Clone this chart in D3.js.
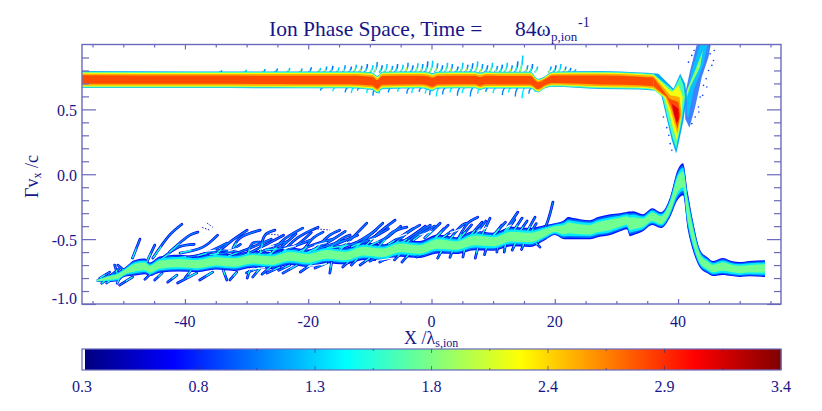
<!DOCTYPE html>
<html>
<head>
<meta charset="utf-8">
<script src="https://cdn.jsdelivr.net/npm/d3@7"></script>
<style>
  html, body { margin: 0; padding: 0; background: #fff; }
  svg { display: block; }
  text { font-family: "Liberation Serif", serif; fill: #16168a; }
</style>
</head>
<body>
<div id="my_dataviz"></div>
<script>
// tick values
var xMajor = [-40, -20, 0, 20, 40];
var xMinor = [-55, -50, -45, -35, -30, -25, -15, -10, -5, 5, 10, 15, 25, 30, 35, 45, 50, 55];
var yMajor = [0.5, 0, -0.5, -1];
var yMinor = [0.9, 0.8, 0.7, 0.6, 0.4, 0.3, 0.2, 0.1, -0.1, -0.2, -0.3, -0.4, -0.6, -0.7, -0.8, -0.9];
var colorLabels = ["0.3", "0.8", "1.3", "1.8", "2.4", "2.9", "3.4"];

// upper beam (band edges in v)
var upperX = [-56.7, -37.6, -21.3, -13.2, -10.8, -9.6, -8.8, -8, -1.9, -0.6, 0.1, 1, 7.1, 7.9, 8.7, 11.1, 16, 17.3, 18.4, 19.6, 27.4, 33.8, 36];
var upperTop = [0.795, 0.792, 0.792, 0.792, 0.79, 0.785, 0.758, 0.79, 0.792, 0.79, 0.778, 0.79, 0.792, 0.783, 0.792, 0.79, 0.79, 0.735, 0.755, 0.79, 0.795, 0.785, 0.779];
var upperBottom = [0.664, 0.665, 0.662, 0.662, 0.655, 0.65, 0.625, 0.656, 0.662, 0.652, 0.64, 0.66, 0.662, 0.648, 0.66, 0.66, 0.66, 0.631, 0.662, 0.675, 0.658, 0.654, 0.645];
var upperLevels = [1.2, 1.7, 2.2, 2.5, 2.78];
var upperFractions = [1, 0.93, 0.82, 0.7, 0.5];

// the spike near x = 40, one outline for each upper level, then the hot core
var spike0 = [[36, 0.779], [36.82, 0.775], [39.26, 0.659], [40.34, 0.775], [41.15, 0.698], [41.42, 0.595], [40.88, 0.416], [40.07, 0.236], [39.69, 0.159], [38.99, 0.262], [38.17, 0.428], [37.36, 0.595], [36.66, 0.646], [36, 0.645]];
var spike1 = [[36, 0.774], [39.26, 0.646], [40.34, 0.754], [40.88, 0.685], [41.15, 0.595], [40.61, 0.416], [39.9, 0.249], [39.69, 0.198], [39.15, 0.275], [38.34, 0.428], [37.52, 0.595], [36, 0.65]];
var spike2 = [[36, 0.767], [38.99, 0.633], [40.07, 0.685], [40.77, 0.595], [40.34, 0.39], [39.8, 0.262], [39.26, 0.339], [38.6, 0.467], [37.74, 0.595], [36, 0.657]];
var spike3 = [[36, 0.759], [38.72, 0.608], [40.23, 0.595], [40.55, 0.467], [39.9, 0.313], [39.42, 0.39], [38.82, 0.492], [37.96, 0.595], [36, 0.665]];
var spike4 = [[36, 0.745], [38.6, 0.582], [40.07, 0.557], [40.34, 0.454], [39.9, 0.351], [39.53, 0.415], [38.99, 0.505], [38.17, 0.595], [36, 0.679]];
var spikeCore = [[38.99, 0.544], [40.07, 0.505], [40.12, 0.428], [39.8, 0.39], [39.26, 0.48]];

// the reflected arm going up out of the frame
var armOuter = [[43.04, 1.0], [45.3, 1.0], [44.94, 0.903], [43.85, 0.749], [42.77, 0.518], [41.85, 0.359], [41.15, 0.428], [41.15, 0.621], [41.96, 0.8]];
var armMiddle = [[43.58, 1.0], [44.77, 1.0], [44.13, 0.852], [42.5, 0.646], [41.69, 0.441], [41.42, 0.454], [41.42, 0.621], [42.23, 0.8]];
var armInner = [[44.02, 0.954], [43.58, 0.826], [41.96, 0.672], [41.26, 0.569], [41.42, 0.646], [42.77, 0.8]];
var armSpecks = [[45.2, 0.928], [45.75, 0.877], [44.94, 0.8], [44.56, 0.736], [44.13, 0.685], [43.58, 0.595], [43.31, 0.518], [42.77, 0.441], [42.23, 0.39], [41.69, 0.864], [42.23, 0.916], [42.6, 0.954], [37.63, 0.441], [38.17, 0.359], [38.5, 0.3], [38.72, 0.236], [38.99, 0.185], [44.67, 0.672], [44, 0.608], [43.37, 0.48], [45.48, 0.839], [45.86, 0.954], [42.93, 0.877]];

// thin spray above and below the upper beam: x, tip v
var fringeUp = [[-34, 0.8], [-30, 0.805], [-27, 0.81], [-25, 0.815], [-23, 0.82], [-21, 0.815], [-19.5, 0.825], [-18, 0.82], [-17, 0.83], [-16, 0.835], [-15, 0.825], [-14, 0.84], [-13, 0.83], [-12.2, 0.845], [-11.3, 0.835], [-10.4, 0.85], [-9.5, 0.84], [-8.8, 0.865], [-8, 0.84], [-7.2, 0.85], [-6.3, 0.835], [-5.5, 0.85], [-4.6, 0.845], [-3.8, 0.86], [-3, 0.84], [-2.2, 0.855], [-1.4, 0.85], [-0.6, 0.87], [0.2, 0.875], [1, 0.855], [1.8, 0.84], [2.6, 0.86], [3.4, 0.85], [4.3, 0.83], [5.1, 0.86], [5.9, 0.845], [6.7, 0.855], [7.5, 0.87], [8.3, 0.85], [9.1, 0.84], [9.9, 0.86], [10.7, 0.835], [11.5, 0.845], [12.3, 0.86], [13.1, 0.84], [14, 0.87], [14.8, 0.915], [15.6, 0.84], [16.4, 0.85], [17.2, 0.83], [19.4, 0.83], [20.2, 0.84], [21, 0.85], [21.8, 0.83], [22.6, 0.82], [23.4, 0.81]];
var fringeDown = [[-18, 0.645], [-16, 0.64], [-14, 0.63], [-13, 0.625], [-12, 0.645], [-10.5, 0.625], [-9.5, 0.605], [-8.5, 0.62], [-7, 0.63], [-5.5, 0.635], [-4, 0.62], [-3.2, 0.625], [-2, 0.635], [-1, 0.62], [-0.3, 0.61], [0.8, 0.6], [1.8, 0.615], [3, 0.63], [4.2, 0.605], [5, 0.625], [6.3, 0.6], [7.5, 0.62], [8.8, 0.635], [10, 0.625], [11.5, 0.61], [12.5, 0.63], [13.6, 0.6], [14.7, 0.585], [15.8, 0.62], [16.8, 0.635]];

// lower beam
var lowerX = [-54.3, -52.5, -50.9, -49.8, -48.1, -46.5, -45.7, -44.1, -41, -38, -35, -32, -29, -26, -23, -20, -17, -14, -11, -8, -5, -2, 1, 4, 7, 10, 13, 16, 18.4, 20, 21.5, 22.2, 23, 24.1, 25.7, 27, 29, 30.6, 31.7, 32.2, 32.7, 34.3, 35.8, 37.2, 38.7, 39.9, 40.8, 41.6, 42.4, 43.6, 44.7, 45.7, 47.2, 48.7, 50, 51.6, 54.1];
var lowerTop = [-0.81, -0.775, -0.75, -0.72, -0.66, -0.65, -0.68, -0.634, -0.62, -0.63, -0.605, -0.615, -0.59, -0.6, -0.565, -0.58, -0.55, -0.565, -0.525, -0.54, -0.5, -0.515, -0.465, -0.485, -0.435, -0.45, -0.405, -0.415, -0.392, -0.377, -0.354, -0.33, -0.338, -0.346, -0.354, -0.33, -0.308, -0.3, -0.29, -0.288, -0.285, -0.308, -0.262, -0.292, -0.177, 0.031, 0.085, -0.146, -0.354, -0.585, -0.638, -0.669, -0.646, -0.669, -0.677, -0.669, -0.662];
var lowerBottom = [-0.83, -0.83, -0.825, -0.79, -0.78, -0.77, -0.785, -0.759, -0.75, -0.755, -0.735, -0.745, -0.72, -0.73, -0.7, -0.715, -0.685, -0.695, -0.66, -0.67, -0.635, -0.645, -0.61, -0.615, -0.585, -0.59, -0.555, -0.56, -0.508, -0.469, -0.5, -0.5, -0.5, -0.5, -0.5, -0.485, -0.469, -0.44, -0.423, -0.477, -0.47, -0.44, -0.392, -0.415, -0.331, -0.2, -0.162, -0.431, -0.585, -0.723, -0.762, -0.785, -0.777, -0.785, -0.792, -0.787, -0.792];
var lowerLevels = [0.72, 1.0, 1.4, 1.8];
var lowerFractions = [1, 0.88, 0.72, 0.5];

// filaments around the lower beam
var fingers = [
  [[-48.5, -0.646], [-47.3, -0.5]],
  [[-46.2, -0.677], [-44.9, -0.546]],
  [[-45.2, -0.646], [-42.5, -0.469], [-40.5, -0.385]],
  [[-42.5, -0.6], [-39.2, -0.469], [-37.9, -0.446]],
  [[-40.8, -0.608], [-37.1, -0.562], [-34.7, -0.469]],
  [[-42, -0.646], [-37.6, -0.623], [-33.2, -0.531]],
  [[-35.5, -0.638], [-32.7, -0.523], [-29.9, -0.431]],
  [[-32.2, -0.569], [-31.1, -0.492], [-27.8, -0.431]],
  [[-29.9, -0.623], [-29, -0.531], [-27.8, -0.523]],
  [[-49.4, -0.762], [-50.9, -0.7]],
  [[-50.9, -0.777], [-51.4, -0.7]],
  [[-53.8, -0.8], [-52.2, -0.754]],
  [[-52.7, -0.838], [-50.6, -0.762]],
  [[-53.5, -0.84], [-52, -0.78], [-50.5, -0.72]],
  [[-51, -0.84], [-50.2, -0.76]],
  [[-48.5, -0.792], [-50.6, -0.854]],
  [[-43.7, -0.762], [-44.9, -0.815]],
  [[-41.3, -0.777], [-42.8, -0.831]],
  [[-38.1, -0.762], [-41.2, -0.838]],
  [[-35.5, -0.754], [-37.6, -0.815]],
  [[-33.8, -0.738], [-33.2, -0.815]],
  [[-31.6, -0.754], [-32.7, -0.815]],
  [[-29.5, -0.738], [-29.9, -0.8]],
  [[-27.8, -0.723], [-29, -0.792]],
  [[-27.8, -0.6], [-27, -0.469], [-25.4, -0.431]],
  [[-26.2, -0.623], [-24.1, -0.508], [-20.9, -0.415]],
  [[-24.6, -0.623], [-21.8, -0.492], [-18.4, -0.408]],
  [[-21.3, -0.623], [-19.2, -0.492], [-17.6, -0.446]],
  [[-19.7, -0.623], [-16.5, -0.469], [-14.9, -0.431]],
  [[-17.6, -0.608], [-14.4, -0.492], [-13.2, -0.469]],
  [[-15.3, -0.608], [-12.1, -0.454], [-10.5, -0.377]],
  [[-13.2, -0.6], [-10, -0.469], [-7.9, -0.377]],
  [[-11.1, -0.569], [-8.4, -0.446], [-5.9, -0.354]],
  [[-8.8, -0.569], [-6.3, -0.446], [-4, -0.408]],
  [[-6.7, -0.569], [-4, -0.454], [-1.9, -0.392]],
  [[-4.6, -0.546], [-2.4, -0.469], [-0.2, -0.392]],
  [[-27, -0.585], [-23, -0.562], [-19.7, -0.508]],
  [[-23, -0.646], [-18.1, -0.569], [-14, -0.508]],
  [[-16.5, -0.569], [-11.6, -0.531]],
  [[-44, -0.66], [-41, -0.56], [-38.5, -0.54]],
  [[-38, -0.63], [-35, -0.59], [-31.5, -0.6]],
  [[-36, -0.62], [-33, -0.6], [-31, -0.54]],
  [[-33, -0.63], [-30, -0.58], [-26, -0.5]],
  [[-31, -0.64], [-28, -0.57], [-24, -0.47]],
  [[-29, -0.64], [-26, -0.56], [-23.5, -0.52]],
  [[-27, -0.63], [-25, -0.58], [-22, -0.46]],
  [[-25, -0.62], [-22, -0.55], [-19.5, -0.45]],
  [[-22, -0.61], [-19.5, -0.55], [-16, -0.5]],
  [[-20, -0.6], [-17, -0.53], [-14, -0.44]],
  [[-18, -0.59], [-15, -0.53], [-12, -0.47]],
  [[-15, -0.57], [-12, -0.52], [-9, -0.43]],
  [[-13, -0.56], [-10, -0.5], [-7, -0.42]],
  [[-10, -0.55], [-7, -0.48], [-5, -0.4]],
  [[-7, -0.54], [-5, -0.48], [-3, -0.42]],
  [[-5, -0.53], [-3, -0.47], [-1, -0.4]],
  [[-3, -0.51], [-1, -0.44], [0.5, -0.4]],
  [[-24.6, -0.715], [-26.7, -0.762]],
  [[-21.8, -0.7], [-24.1, -0.762]],
  [[-19.2, -0.685], [-21.3, -0.754]],
  [[-16.2, -0.677], [-16.5, -0.762]],
  [[-17, -0.685], [-18.9, -0.723]],
  [[-13.2, -0.662], [-14.4, -0.715]],
  [[-10, -0.646], [-11.6, -0.7]],
  [[-6.3, -0.623], [-8.4, -0.677]],
  [[-3.5, -0.608], [-4.8, -0.677]],
  [[-0.7, -0.6], [-2.4, -0.638]],
  [[-45, -0.74], [-46.5, -0.81]],
  [[-39, -0.74], [-40, -0.8]],
  [[-28, -0.72], [-30, -0.76]],
  [[-26, -0.71], [-27.5, -0.77]],
  [[-23, -0.7], [-24.8, -0.74]],
  [[-12, -0.65], [-13, -0.7]],
  [[-8.5, -0.63], [-10, -0.67]],
  [[-5, -0.61], [-6, -0.66]],
  [[-1.1, -0.492], [1.4, -0.377]],
  [[0.6, -0.492], [2.7, -0.392]],
  [[2.2, -0.546], [5, -0.392], [5.8, -0.377]],
  [[3.8, -0.546], [5.9, -0.377], [7.5, -0.331]],
  [[5.9, -0.492], [8.2, -0.369]],
  [[8.2, -0.469], [9.5, -0.338]],
  [[9.8, -0.492], [11.4, -0.392]],
  [[11.1, -0.492], [14, -0.292]],
  [[13.2, -0.446], [14.7, -0.338]],
  [[15.2, -0.469], [16.8, -0.331]],
  [[17.3, -0.523], [18.8, -0.369], [19.7, -0.215]],
  [[0, -0.52], [2, -0.42]],
  [[1.5, -0.5], [3.5, -0.43]],
  [[4.5, -0.5], [6.5, -0.39]],
  [[7, -0.47], [8.8, -0.36]],
  [[10, -0.47], [12, -0.37]],
  [[12, -0.45], [13.5, -0.35]],
  [[14.2, -0.45], [15.5, -0.36]],
  [[16, -0.46], [17, -0.38]],
  [[1.7, -0.585], [1, -0.646]],
  [[3.5, -0.58], [3, -0.64]],
  [[5.4, -0.569], [5.1, -0.638]],
  [[7.5, -0.569], [7.1, -0.646]],
  [[9, -0.55], [8.6, -0.62]],
  [[10.8, -0.546], [10.6, -0.6]],
  [[12, -0.54], [11.8, -0.6]],
  [[13.6, -0.531], [13.1, -0.585]],
  [[15, -0.53], [14.6, -0.58]],
  [[16.8, -0.523], [17.6, -0.562]]
];
var sparseFingers = [
  [[-36.4, -0.377], [-35.5, -0.408]],
  [[-37.2, -0.41], [-36, -0.43]],
  [[-26.5, -0.46], [-24.5, -0.47]],
  [[-19, -0.42], [-16.5, -0.43]]
];
// white gaps in the lace next to the core
var laceGaps = [
  [[-38, -0.6], [-35, -0.585]], [[-33, -0.59], [-30.5, -0.56]], [[-28, -0.58], [-25.5, -0.55]],
  [[-24, -0.575], [-22, -0.55]], [[-19, -0.55], [-17, -0.525]], [[-14, -0.53], [-12, -0.505]],
  [[-10, -0.505], [-8, -0.48]], [[-6, -0.49], [-4, -0.46]], [[-2, -0.47], [0, -0.44]],
  [[3, -0.45], [5, -0.42]], [[7.5, -0.44], [9, -0.41]], [[11.5, -0.42], [13, -0.39]],
  [[-30, -0.735], [-27, -0.72]], [[-20, -0.71], [-17, -0.69]], [[-9, -0.665], [-6, -0.645]]
];

var Width = 822, Height = 411;
var margin = {top: 44.5, right: 41, bottom: 107, left: 82};
var width = Width - margin.left - margin.right;
var height = Height - margin.top - margin.bottom;
var axisColor = "#6a6abc";

var svg = d3.select("#my_dataviz").append("svg")
  .attr("width", Width)
  .attr("height", Height);

var defs = svg.append("defs");
defs.append("clipPath").attr("id", "plotClip").append("rect")
  .attr("width", width).attr("height", height);
defs.append("filter").attr("id", "soft")
  .append("feGaussianBlur").attr("stdDeviation", 0.45);

var x = d3.scaleLinear().domain([-56.7, 56.7]).range([0, width]);
var y = d3.scaleLinear().domain([-1, 1]).range([height, 0]);

// jet, the IDL colour table of the original
var colorDomain = [0.3, 3.4];
var color = d3.scaleLinear()
  .domain([0, 0.125, 0.375, 0.625, 0.875, 1].map(function (t) { return colorDomain[0] + t * (colorDomain[1] - colorDomain[0]); }))
  .range(["#00007f", "#0000ff", "#00ffff", "#ffff00", "#ff0000", "#7f0000"]);

var plot = svg.append("g")
  .attr("transform", "translate(" + margin.left + "," + margin.top + ")");

var marks = plot.append("g")
  .attr("clip-path", "url(#plotClip)")
  .append("g")
  .attr("filter", "url(#soft)");

var polygon = d3.line().x(function (d) { return x(d[0]); }).y(function (d) { return y(d[1]); }).curve(d3.curveLinearClosed);
var polyline = d3.line().x(function (d) { return x(d[0]); }).y(function (d) { return y(d[1]); }).curve(d3.curveCatmullRom);

// nested areas, the fraction is the share of the half width the level fills
function band(xs, top, bottom, fraction) {
  var area = d3.area()
    .x(function (d, i) { return x(xs[i]); })
    .y0(function (d, i) { var mid = (top[i] + bottom[i]) / 2; return y(mid + (top[i] - mid) * fraction); })
    .y1(function (d, i) { var mid = (top[i] + bottom[i]) / 2; return y(mid + (bottom[i] - mid) * fraction); })
    .curve(d3.curveMonotoneX);
  return area(xs);
}

// arm goes behind the spike
marks.append("g").selectAll("circle").data(armSpecks).enter().append("circle")
  .attr("cx", function (d) { return x(d[0]); })
  .attr("cy", function (d) { return y(d[1]); })
  .attr("r", 0.8)
  .attr("fill", color(0.85));
[[armOuter, 0.95, 0.75], [armMiddle, 1.3, 0.9], [armInner, 1.9, 1]].forEach(function (a) {
  marks.append("path").attr("d", polygon(a[0])).attr("fill", color(a[1])).attr("fill-opacity", a[2]);
});

// spray of the upper beam, loose tufts with white between them
function tuft(base, lean) {
  return function (d) {
    return polyline([[d[0] - lean, base], [d[0] - lean * 0.2, (base + d[1]) / 2], d]);
  };
}
var upperTufts = marks.append("g");
upperTufts.selectAll("path.rim").data(fringeUp).enter().append("path")
  .attr("d", tuft(0.785, 0.5)).attr("fill", "none")
  .attr("stroke", function (d, i) { return color(i % 3 == 0 ? 1.05 : i % 3 == 1 ? 1.3 : 1.15); })
  .attr("stroke-width", 1.6);
upperTufts.selectAll("path.root").data(fringeUp).enter().append("path")
  .attr("d", function (d) { return polyline([[d[0] - 0.4, 0.785], [d[0] - 0.2, (0.785 + d[1]) / 2]]); })
  .attr("fill", "none")
  .attr("stroke", function (d, i) { return color(i % 3 == 0 ? 1.6 : i % 3 == 1 ? 1.85 : 2.05); })
  .attr("stroke-width", 1.3);
marks.append("g").selectAll("path").data(fringeDown).enter().append("path")
  .attr("d", tuft(0.67, -0.4)).attr("fill", "none")
  .attr("stroke", function (d, i) { return color(i % 2 == 0 ? 1.1 : 1.4); })
  .attr("stroke-width", 1.4);

// upper beam
var spikes = [spike0, spike1, spike2, spike3, spike4];
upperLevels.forEach(function (level, i) {
  marks.append("path")
    .attr("d", band(upperX, upperTop, upperBottom, upperFractions[i]))
    .attr("fill", color(level));
  marks.append("path")
    .attr("d", polygon(spikes[i]))
    .attr("fill", color(level));
});
marks.append("path").attr("d", polygon(spikeCore)).attr("fill", color(3.1));

// lower beam: rim first, then the filaments so their roots break it, then the core
function lowerLevel(i) {
  marks.append("path")
    .attr("d", band(lowerX, lowerTop, lowerBottom, lowerFractions[i]))
    .attr("fill", color(lowerLevels[i]));
}
lowerLevel(0);
lowerLevel(1);
marks.append("g").selectAll("path").data(fingers).enter().append("path")
  .attr("d", polyline).attr("fill", "none")
  .attr("stroke", color(0.62)).attr("stroke-width", 2.7).attr("stroke-linecap", "round");
marks.append("g").selectAll("path").data(fingers).enter().append("path")
  .attr("d", polyline).attr("fill", "none")
  .attr("stroke", color(1.1)).attr("stroke-width", 1.3).attr("stroke-linecap", "round");
marks.append("g").selectAll("path").data(fingers).enter().append("path")
  .attr("d", function (d) { return polyline([d[0], [(d[0][0] + d[1][0]) / 2, (d[0][1] + d[1][1]) / 2]]); })
  .attr("fill", "none")
  .attr("stroke", color(1.55)).attr("stroke-width", 1.2);
marks.append("g").selectAll("path").data(sparseFingers).enter().append("path")
  .attr("d", polyline).attr("fill", "none")
  .attr("stroke", color(0.45)).attr("stroke-width", 0.9).attr("stroke-dasharray", "1.5 1.5");
marks.append("g").selectAll("path").data(laceGaps).enter().append("path")
  .attr("d", polyline).attr("fill", "none")
  .attr("stroke", "#fff").attr("stroke-width", 1.2);
lowerLevel(2);
lowerLevel(3);

// axes, one call for the majors and one for the minors on each side
function styleAxis(g) {
  g.selectAll("path.domain").remove();
  g.selectAll("line").attr("stroke", axisColor).attr("stroke-width", 1.2);
}
function addAxis(axisFn, scale, values, size, translate) {
  plot.append("g")
    .attr("transform", translate)
    .call(axisFn(scale).tickValues(values).tickSize(size).tickFormat(""))
    .call(styleAxis);
}
addAxis(d3.axisTop, x, xMajor, 5, "translate(0," + height + ")");
addAxis(d3.axisTop, x, xMinor, 3, "translate(0," + height + ")");
addAxis(d3.axisBottom, x, xMajor, 5, "translate(0,0)");
addAxis(d3.axisBottom, x, xMinor, 3, "translate(0,0)");
addAxis(d3.axisRight, y, yMajor, 14, "translate(0,0)");
addAxis(d3.axisRight, y, yMinor, 7, "translate(0,0)");
addAxis(d3.axisLeft, y, yMajor, 14, "translate(" + width + ",0)");
addAxis(d3.axisLeft, y, yMinor, 7, "translate(" + width + ",0)");

plot.append("rect")
  .attr("width", width).attr("height", height)
  .attr("fill", "none").attr("stroke", axisColor).attr("stroke-width", 1.4);

// tick labels
plot.append("g").selectAll("text").data(xMajor).enter().append("text")
  .attr("x", function (d) { return x(d); })
  .attr("y", height + 22.5)
  .attr("text-anchor", "middle")
  .style("font-size", "16px")
  .text(function (d) { return String(d); });
plot.append("g").selectAll("text").data(yMajor).enter().append("text")
  .attr("x", -5)
  .attr("y", function (d) { return y(d) + (d == -1 ? 0 : 6.5); })
  .attr("text-anchor", "end")
  .style("font-size", "16px")
  .text(function (d) { return d.toFixed(1); });

// title
var title = svg.append("text").attr("y", 36).style("font-size", "21.5px");
title.append("tspan").attr("x", 269).text("Ion Phase Space, Time =");
title.append("tspan").attr("x", 515).text("84ω");
title.append("tspan").attr("x", 551).attr("dy", 5).style("font-size", "13px").text("p,ion");
title.append("tspan").attr("x", 578).attr("dy", -14).style("font-size", "14px").text("-1");

// x title
var xTitle = svg.append("text").attr("y", 344).style("font-size", "18px");
xTitle.append("tspan").attr("x", 404).text("X /λ");
xTitle.append("tspan").attr("dy", 3).style("font-size", "12px").text("s,ion");

// y title
var yTitle = svg.append("text")
  .attr("transform", "translate(38,198) rotate(-90)")
  .style("font-size", "18px");
yTitle.append("tspan").text("Γv");
yTitle.append("tspan").attr("dy", 3).style("font-size", "12px").text("x");
yTitle.append("tspan").attr("dy", -3).text(" /c");

// colour bar
var barTop = 349, barHeight = 21, barLeft = 82, barRight = 781, barImageLeft = 85;
var barScale = d3.scaleLinear().domain(colorDomain).range([barImageLeft, barRight]);
var barStep = (colorDomain[1] - colorDomain[0]) / (barRight - barImageLeft);
svg.append("g").selectAll("rect").data(d3.range(colorDomain[0], colorDomain[1], barStep)).enter().append("rect")
  .attr("x", function (d) { return barScale(d); })
  .attr("y", barTop)
  .attr("width", 1.5)
  .attr("height", barHeight)
  .attr("fill", function (d) { return color(d); });
svg.append("rect")
  .attr("x", barLeft).attr("y", barTop).attr("width", barRight - barLeft).attr("height", barHeight)
  .attr("fill", "none").attr("stroke", axisColor).attr("stroke-width", 1.2);

var labelScale = d3.scalePoint().domain(colorLabels).range([barLeft, barRight]);
var barTickScale = d3.scaleLinear().domain([0, 12]).range([barLeft, barRight]);
var barTicks = d3.range(1, 12);
svg.append("g").selectAll("line").data(barTicks).enter().append("line")
  .attr("x1", function (d) { return barTickScale(d); })
  .attr("x2", function (d) { return barTickScale(d); })
  .attr("y1", barTop).attr("y2", function (d) { return barTop + (d % 2 == 0 ? 4 : 2); })
  .attr("stroke", "#30308a").attr("stroke-opacity", 0.6);
svg.append("g").selectAll("line").data(barTicks).enter().append("line")
  .attr("x1", function (d) { return barTickScale(d); })
  .attr("x2", function (d) { return barTickScale(d); })
  .attr("y1", barTop + barHeight).attr("y2", function (d) { return barTop + barHeight - (d % 2 == 0 ? 4 : 2); })
  .attr("stroke", "#30308a").attr("stroke-opacity", 0.6);
svg.append("g").selectAll("text").data(colorLabels).enter().append("text")
  .attr("x", function (d) { return labelScale(d); })
  .attr("y", 392)
  .attr("text-anchor", "middle")
  .style("font-size", "16px")
  .text(function (d) { return d; });
</script>
</body>
</html>
